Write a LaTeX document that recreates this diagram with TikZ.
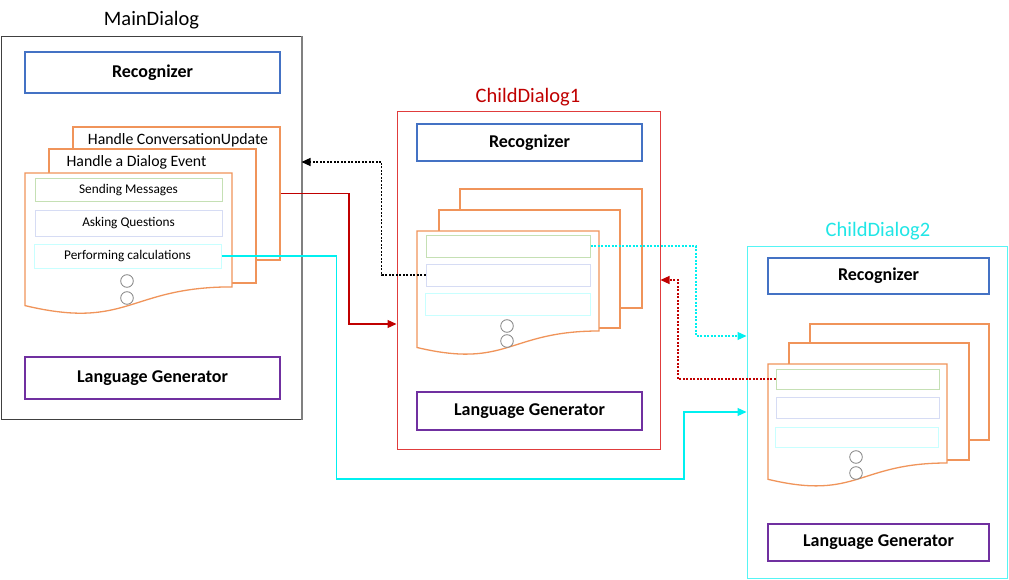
\documentclass[tikz,border=0pt]{standalone}
\usepackage{fontspec}
\setmainfont{Carlito}
\usetikzlibrary{arrows.meta}
\definecolor{recblue}{HTML}{4472C4}
\definecolor{lgpurple}{HTML}{7030A0}
\definecolor{pageor}{HTML}{F0945A}
\definecolor{itgreen}{HTML}{C5E0B4}
\definecolor{itblue}{HTML}{D6DCF4}
\definecolor{itcyan}{HTML}{C8FFFF}
\definecolor{boxred}{HTML}{E03C3C}
\definecolor{darkred}{HTML}{C00000}
\definecolor{boxcyan}{HTML}{55F5F5}
\definecolor{lncyan}{HTML}{00F0F0}
\definecolor{ttlcyan}{HTML}{20E6E6}
\definecolor{maingray}{HTML}{404040}
\tikzset{
  ttl/.style={inner sep=0pt,font=\fontsize{20.5}{22}\selectfont},
  dlg/.style={draw,line width=1pt,fill=white,inner sep=0pt},
  recbox/.style={draw=recblue,line width=2pt,inner sep=0pt,font=\bfseries\fontsize{18}{20}\selectfont},
  lgbox/.style={draw=lgpurple,line width=2pt,inner sep=0pt,font=\bfseries\fontsize{18}{20}\selectfont},
  pagebox/.style={draw=pageor,line width=1.3pt,fill=white,inner sep=0pt},
  docshape/.style={draw=pageor,line width=1.3pt,fill=white},
  item/.style={line width=1pt,fill=white,inner sep=0pt,font=\fontsize{13.3}{15}\selectfont},
  dot/.style={draw=gray,line width=0.8pt,fill=white},
  pagelbl/.style={inner sep=0pt,font=\fontsize{15.8}{17}\selectfont},
  conn/.style={line width=1.2pt,-{Triangle[length=9pt,width=8pt]}},
  dotconn/.style={conn,dash pattern=on 2pt off 1.5pt}
}
\begin{document}
\begin{tikzpicture}[x=1pt,y=-1pt]
\useasboundingbox (0,0) rectangle (1009,580);
\fill[white] (0,0) rectangle (1009,580);

% ---------------- Main dialog ----------------
\node[ttl] (mainttl) at (151.5,20) {MainDialog};
\node[dlg,draw=maingray,minimum width=300pt,minimum height=382pt] (mainbox) at (151,228) {};
\draw[gray,line width=2pt] (mainbox.north east) -- (mainbox.south east);
\node[recbox,minimum width=255pt,minimum height=41pt] (mrec) at (152.5,72.5) {Recognizer};
\node[lgbox,minimum width=255pt,minimum height=42pt] (mlg) at (152.5,378) {Language Generator};
\node[pagebox,minimum width=207pt,minimum height=133pt] (cupage) at (176.5,193.5) {};
\node[pagelbl] (culbl) at (178,140) {Handle ConversationUpdate};
\node[pagebox,minimum width=207pt,minimum height=134pt] (evpage) at (152.5,216) {};
\node[pagelbl] (evlbl) at (136.5,162) {Handle a Dialog Event};
\draw[docshape] (25,173) -- (232,173) -- (232,286.9)
  .. controls (128.5,286.9) and (128.5,330.3) .. (25,305.6) -- cycle;
\node[item,draw=itgreen,minimum width=187pt,minimum height=23pt] (sm) at (128.5,190.5) {Sending Messages};
\node[item,draw=itblue,minimum width=187pt,minimum height=25pt] (aq) at (128.5,223.5) {Asking Questions};
\node[item,draw=itcyan,minimum width=187pt,minimum height=24pt] (pc) at (127.5,256) {Performing calculations};
\draw[dot] (127,281) circle (6.3);
\draw[dot] (127,298) circle (6.3);

% ---------------- Child dialog 1 ----------------
\node[ttl,text=darkred] (c1ttl) at (528,97) {ChildDialog1};
\node[dlg,draw=boxred,minimum width=263pt,minimum height=337.5pt] (cdone) at (528.5,280.25) {};
\node[recbox,minimum width=225pt,minimum height=37pt] (c1rec) at (529.5,142.5) {Recognizer};
\node[lgbox,minimum width=225pt,minimum height=38pt] (c1lg) at (529.5,411) {Language Generator};
\node[pagebox,minimum width=182pt,minimum height=119pt] (c1back) at (551,248.5) {};
\node[pagebox,minimum width=181pt,minimum height=118pt] (c1mid) at (529.5,269) {};
\draw[docshape] (417,231) -- (599,231) -- (599,331)
  .. controls (508,331) and (508,369.1) .. (417,347.5) -- cycle;
\node[item,draw=itgreen,minimum width=164pt,minimum height=22pt] (c1green) at (508,246) {};
\node[item,draw=itblue,minimum width=164pt,minimum height=22pt] (c1blue) at (508,275) {};
\node[item,draw=itcyan,minimum width=165pt,minimum height=22pt] (c1cyan) at (507.5,304) {};
\draw[dot] (507,326) circle (6.3);
\draw[dot] (507,341) circle (6.3);

% ---------------- Child dialog 2 ----------------
\node[ttl,text=ttlcyan] (c2ttl) at (878,231) {ChildDialog2};
\node[dlg,draw=boxcyan,minimum width=260pt,minimum height=332pt] (cdtwo) at (877,412) {};
\node[recbox,minimum width=221pt,minimum height=36pt] (c2rec) at (878.5,276) {Recognizer};
\node[lgbox,minimum width=221pt,minimum height=37pt] (c2lg) at (878.5,542.5) {Language Generator};
\node[pagebox,minimum width=179pt,minimum height=116pt] (c2back) at (899.5,382) {};
\node[pagebox,minimum width=180pt,minimum height=117pt] (c2mid) at (879,401.5) {};
\draw[docshape] (768,364) -- (947,364) -- (947,463)
  .. controls (857.5,463) and (857.5,500.7) .. (768,479.3) -- cycle;
\node[item,draw=itgreen,minimum width=163pt,minimum height=20pt] (c2green) at (857.5,379) {};
\node[item,draw=itblue,minimum width=163pt,minimum height=21pt] (c2blue) at (857.5,407.5) {};
\node[item,draw=itcyan,minimum width=163pt,minimum height=20pt] (c2cyan) at (856.5,437) {};
\draw[dot] (856,457) circle (6.3);
\draw[dot] (856,473) circle (6.3);

% ---------------- Connectors ----------------
\coordinate (r1) at (349,324);
\coordinate (k1) at (381.5,162);
\coordinate (q1) at (336.5,479);
\coordinate (q2) at (684,412);
\coordinate (d1) at (696,336);
\coordinate (e1) at (678,280);

\draw[conn,darkred] (cupage.east) -| (r1) -- (r1 -| cdone.west);
\draw[dotconn,black] (c1blue.west) -| (k1) -- (k1 -| mainbox.east);
\draw[conn,lncyan] (pc.east) -| (q1) -| (q2) -- (q2 -| cdtwo.west);
\draw[dotconn,lncyan] (c1green.east) -| (d1) -- (d1 -| cdtwo.west);
\draw[dotconn,darkred] (c2green.west) -| (e1) -- (e1 -| cdone.east);
\end{tikzpicture}
\end{document}
